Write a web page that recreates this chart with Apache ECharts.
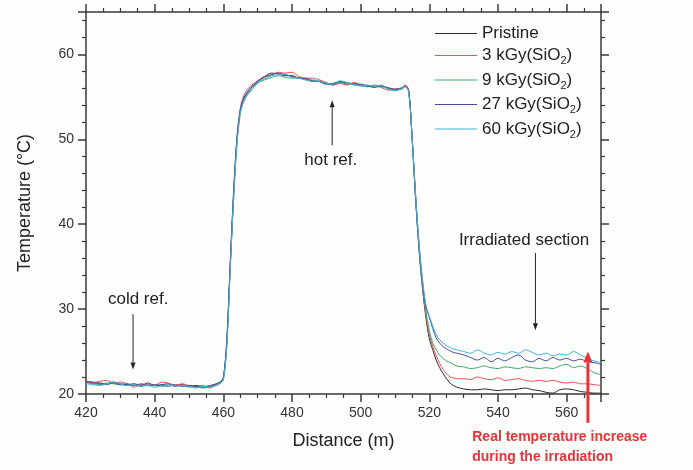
<!DOCTYPE html>
<html>
<head>
<meta charset="utf-8">
<script src="https://cdn.jsdelivr.net/npm/echarts@6/dist/echarts.min.js"></script>
<style>
  html, body { margin: 0; padding: 0; background: #fdfdfb; }
  #main { width: 693px; height: 470px; }
</style>
</head>
<body>
<div id="main"></div>
<script>
// distance along the fibre (m)
var distance = [
  420, 422, 424, 426, 428, 430, 432, 434, 436, 438, 440, 442, 444, 446, 448, 450, 452, 454, 456, 458,
  459, 460, 461, 462, 463, 464, 465, 466, 467, 468,
  470, 472, 474, 476, 478, 480, 482, 484, 486, 488, 490, 492, 494, 496, 498, 500, 502, 504, 506, 508, 510, 512,
  513, 514, 515, 516, 517, 518, 519,
  520, 521, 522, 523, 524, 525, 526, 527, 528,
  530, 532, 534, 536, 538, 540, 542, 544, 546, 548, 550, 552, 554, 556, 558, 560, 562, 564, 566, 568, 570
];

var pristine = [
  21.5, 21.4, 21.3, 21.2, 21.4, 21.2, 21.1, 21.2, 21.0, 21.3, 21.0, 21.1, 21.2, 21.0, 21.1, 20.9, 21.0, 20.9, 20.9, 21.2,
  21.4, 21.9, 26.0, 35.0, 43.5, 50.0, 53.5, 54.8, 55.5, 56.0,
  56.9, 57.4, 57.8, 57.7, 57.5, 57.5, 57.2, 57.1, 56.9, 56.8, 56.5, 56.6, 56.8, 56.5, 56.6, 56.4, 56.3, 56.2, 56.3, 56.0, 55.9, 56.0,
  56.3, 55.7, 50.0, 43.0, 37.0, 32.5, 29.0,
  26.5, 25.2, 24.0, 23.1, 22.4, 21.8, 21.3, 21.0, 20.8,
  20.6, 20.5, 20.5, 20.6, 20.5, 20.4, 20.5, 20.5, 20.6, 20.7, 20.5, 20.4, 20.2, 20.1, 20.5, 20.6, 20.5, 20.3, 20.2, 20.1, 20.1
];

var kgy3 = [
  21.6, 21.3, 21.5, 21.6, 21.3, 21.4, 21.2, 20.8, 21.1, 21.2, 21.0, 21.4, 21.3, 21.0, 21.2, 21.0, 20.8, 21.0, 20.7, 21.1,
  21.3, 21.8, 26.5, 35.5, 44.0, 50.5, 53.8, 55.2, 55.9, 56.3,
  56.9, 57.4, 57.6, 57.9, 57.8, 57.9, 57.4, 57.2, 57.2, 57.0, 56.7, 56.4, 56.6, 56.4, 56.7, 56.4, 56.2, 56.3, 56.1, 55.8, 55.9, 56.1,
  56.4, 55.8, 50.0, 43.0, 37.0, 32.6, 29.3,
  27.0, 25.6, 24.5, 23.6, 22.9, 22.4, 22.0, 21.9, 21.8,
  21.8, 21.7, 22.0, 21.8, 21.7, 21.9, 21.6, 21.7, 21.8, 21.6, 21.5, 21.6, 21.5, 21.6, 21.4, 21.3, 21.4, 21.2, 21.2, 21.1, 21.0
];

var kgy9 = [
  21.3, 21.2, 21.1, 21.3, 21.2, 21.1, 21.0, 21.1, 20.9, 21.1, 21.0, 20.9, 21.1, 20.9, 21.0, 20.8, 20.9, 20.7, 20.8, 21.1,
  21.3, 21.7, 25.8, 34.8, 43.2, 49.8, 53.2, 54.5, 55.2, 55.7,
  56.6, 57.0, 57.3, 57.5, 57.3, 57.2, 57.3, 57.0, 56.8, 56.9, 56.5, 56.5, 56.7, 56.6, 56.4, 56.3, 56.2, 56.4, 56.2, 56.0, 55.8, 55.9,
  56.2, 55.6, 50.0, 43.2, 37.3, 33.0, 29.8,
  27.5, 26.0, 25.2, 24.6, 24.2, 23.9, 23.7, 23.5, 23.3,
  23.2, 23.0, 23.1, 23.3, 23.1, 23.0, 23.2, 23.1, 23.0, 23.2, 23.1, 23.0, 23.1, 23.0, 23.3, 23.5, 23.1, 23.3, 23.0, 22.5, 22.3
];

var kgy27 = [
  21.4, 21.3, 21.2, 21.1, 21.3, 21.1, 21.2, 21.0, 21.2, 21.0, 21.1, 21.0, 20.9, 21.1, 20.9, 21.0, 20.9, 20.8, 21.0, 21.2,
  21.4, 21.9, 26.2, 35.2, 43.8, 50.2, 53.6, 54.9, 55.6, 56.1,
  56.8, 57.3, 57.6, 57.8, 57.6, 57.4, 57.2, 57.2, 56.9, 56.8, 56.6, 56.4, 56.8, 56.7, 56.5, 56.5, 56.3, 56.1, 56.3, 56.1, 55.9, 56.0,
  56.3, 55.7, 50.2, 43.4, 37.6, 33.3, 30.3,
  29.0, 27.7, 26.6, 26.0, 25.6, 25.3, 25.1, 24.9, 24.8,
  24.6, 24.3, 24.0, 24.3, 23.8, 24.2, 23.9, 24.3, 24.6, 24.0, 23.8, 24.2, 23.9, 24.3, 24.0, 24.2, 23.9, 24.1, 23.8, 23.7, 23.5
];

var kgy60 = [
  21.2, 21.1, 21.0, 21.2, 21.4, 21.2, 21.0, 21.1, 20.9, 21.0, 20.8, 21.0, 21.1, 20.9, 21.0, 20.9, 20.7, 20.9, 20.8, 21.0,
  21.2, 21.6, 25.5, 34.5, 43.0, 49.6, 53.2, 54.6, 55.3, 55.8,
  56.7, 57.1, 57.5, 57.6, 57.7, 57.3, 57.2, 57.0, 57.0, 56.8, 56.6, 56.5, 56.9, 56.7, 56.5, 56.3, 56.4, 56.2, 56.4, 55.9, 55.7, 56.0,
  56.2, 55.6, 50.2, 43.5, 37.8, 33.5, 30.5,
  29.2, 28.0, 27.0, 26.4, 26.0, 25.7, 25.5, 25.3, 25.2,
  25.0, 24.8, 25.2, 24.8, 24.6, 24.9, 24.7, 25.0, 24.8, 25.2, 24.9, 24.6, 24.8, 24.5, 24.7, 24.6, 25.0, 24.6, 24.2, 23.9, 23.7
];

var seriesNames = ['Pristine', '3 kGy(SiO2)', '9 kGy(SiO2)', '27 kGy(SiO2)', '60 kGy(SiO2)'];
var seriesValues = [pristine, kgy3, kgy9, kgy27, kgy60];
var seriesColors = ['#2b2b2b', '#e8525a', '#3daa6e', '#4a4d9c', '#3db2e4'];

var font = 'Liberation Sans, Arial, sans-serif';
var axisColor = '#3a3a3a';

var dom = document.getElementById('main');
var myChart = echarts.init(dom);

function pairs(values) {
  return distance.map(function (d, i) { return [d, values[i]]; });
}

var series = seriesNames.map(function (name, k) {
  return {
    name: name,
    type: 'line',
    data: pairs(seriesValues[k]),
    symbol: 'none',
    smooth: 0.3,
    lineStyle: { width: 1, color: seriesColors[k] },
    itemStyle: { color: seriesColors[k] },
    z: 2 + k
  };
});

var xBase = {
  type: 'value', min: 420, max: 570, interval: 20,
  axisLine: { lineStyle: { color: axisColor, width: 1.5 } },
  axisTick: { inside: false, length: 8, lineStyle: { color: axisColor, width: 1.5 } },
  minorTick: { show: true, splitNumber: 4, length: 4, lineStyle: { color: axisColor, width: 1.2 } },
  splitLine: { show: false }
};
var yBase = {
  type: 'value', min: 20, max: 65, interval: 10,
  axisLine: { show: true, lineStyle: { color: axisColor, width: 1.5 } },
  axisTick: { show: true, inside: false, length: 8, lineStyle: { color: axisColor, width: 1.5 } },
  minorTick: { show: true, splitNumber: 5, length: 4, lineStyle: { color: axisColor, width: 1.2 } },
  splitLine: { show: false }
};

var option = {
  backgroundColor: '#fdfdfb',
  animation: false,
  textStyle: { fontFamily: font },
  grid: { left: 86, right: 92, top: 12, bottom: 76 },
  legend: {
    orient: 'vertical',
    left: 430,
    top: 20,
    icon: 'rect',
    itemWidth: 42,
    itemHeight: 1.2,
    itemGap: 5,
    data: seriesNames,
    formatter: function (name) {
      return name.replace('SiO2)', 'SiO{s|2}{n|)}');
    },
    textStyle: {
      fontFamily: font, fontSize: 17, color: '#222',
      rich: {
        s: { fontFamily: font, fontSize: 11, color: '#222', padding: [11, 0, 0, 0] },
        n: { fontFamily: font, fontSize: 17, color: '#222' }
      }
    }
  },
  xAxis: [
    Object.assign({}, xBase, {
      position: 'bottom',
      name: 'Distance (m)',
      nameLocation: 'middle',
      nameGap: 38,
      nameTextStyle: { fontFamily: font, fontSize: 18, color: '#222' },
      axisLabel: { fontFamily: font, fontSize: 14, color: '#333', margin: 12, showMaxLabel: false }
    }),
    Object.assign({}, xBase, { position: 'top', axisLabel: { show: false } })
  ],
  yAxis: [
    Object.assign({}, yBase, {
      position: 'left',
      name: 'Temperature (\u00b0C)',
      nameLocation: 'middle',
      nameGap: 52,
      nameTextStyle: { fontFamily: font, fontSize: 18, color: '#222' },
      axisLabel: { fontFamily: font, fontSize: 14, color: '#333', margin: 12, showMaxLabel: false }
    }),
    Object.assign({}, yBase, { position: 'right', axisLabel: { show: false } })
  ],
  series: series
};

myChart.setOption(option, true);

// annotations, placed in data coordinates
function px(d, t) {
  return myChart.convertToPixel({ xAxisIndex: 0, yAxisIndex: 0 }, [d, t]);
}
function arrow(from, to, color, width, headLen, headW) {
  var a = px(from[0], from[1]);
  var b = px(to[0], to[1]);
  var dx = b[0] - a[0], dy = b[1] - a[1];
  var len = Math.sqrt(dx * dx + dy * dy);
  var ux = dx / len, uy = dy / len;
  var bx = b[0] - ux * headLen, by = b[1] - uy * headLen;
  return [
    { type: 'line', shape: { x1: a[0], y1: a[1], x2: bx, y2: by }, style: { stroke: color, lineWidth: width }, z: 20 },
    { type: 'polygon', shape: { points: [[b[0], b[1]], [bx - uy * headW, by + ux * headW], [bx + uy * headW, by - ux * headW]] },
      style: { fill: color }, z: 20 }
  ];
}
function label(d, t, text, opts) {
  var p = px(d, t);
  return {
    type: 'text', x: p[0], y: p[1], z: 20,
    style: Object.assign({ text: text, fontFamily: font, fontSize: 17, fill: '#222',
      textAlign: 'center', textVerticalAlign: 'middle' }, opts || {})
  };
}

var graphics = []
  .concat(arrow([433.7, 29.4], [433.7, 22.9], '#222', 1, 7, 2.5))
  .concat(arrow([491.7, 49.3], [491.7, 54.6], '#222', 1, 7, 2.5))
  .concat(arrow([550.9, 36.6], [550.9, 27.5], '#222', 1, 7, 2.5))
  .concat(arrow([566.2, 16.6], [566.2, 25.0], '#e8323a', 3, 11, 4.5));
graphics.push(label(435.2, 31.1, 'cold ref.'));
graphics.push(label(491.3, 47.5, 'hot ref.'));
graphics.push(label(547.6, 38.1, 'Irradiated section'));
graphics.push(label(532.5, 14.9, 'Real temperature increase',
  { textAlign: 'left', fontSize: 14, fontWeight: 'bold', fill: '#e8323a' }));
graphics.push(label(532.5, 12.6, 'during the irradiation',
  { textAlign: 'left', fontSize: 14, fontWeight: 'bold', fill: '#e8323a' }));

myChart.setOption({ graphic: graphics });
</script>
</body>
</html>
